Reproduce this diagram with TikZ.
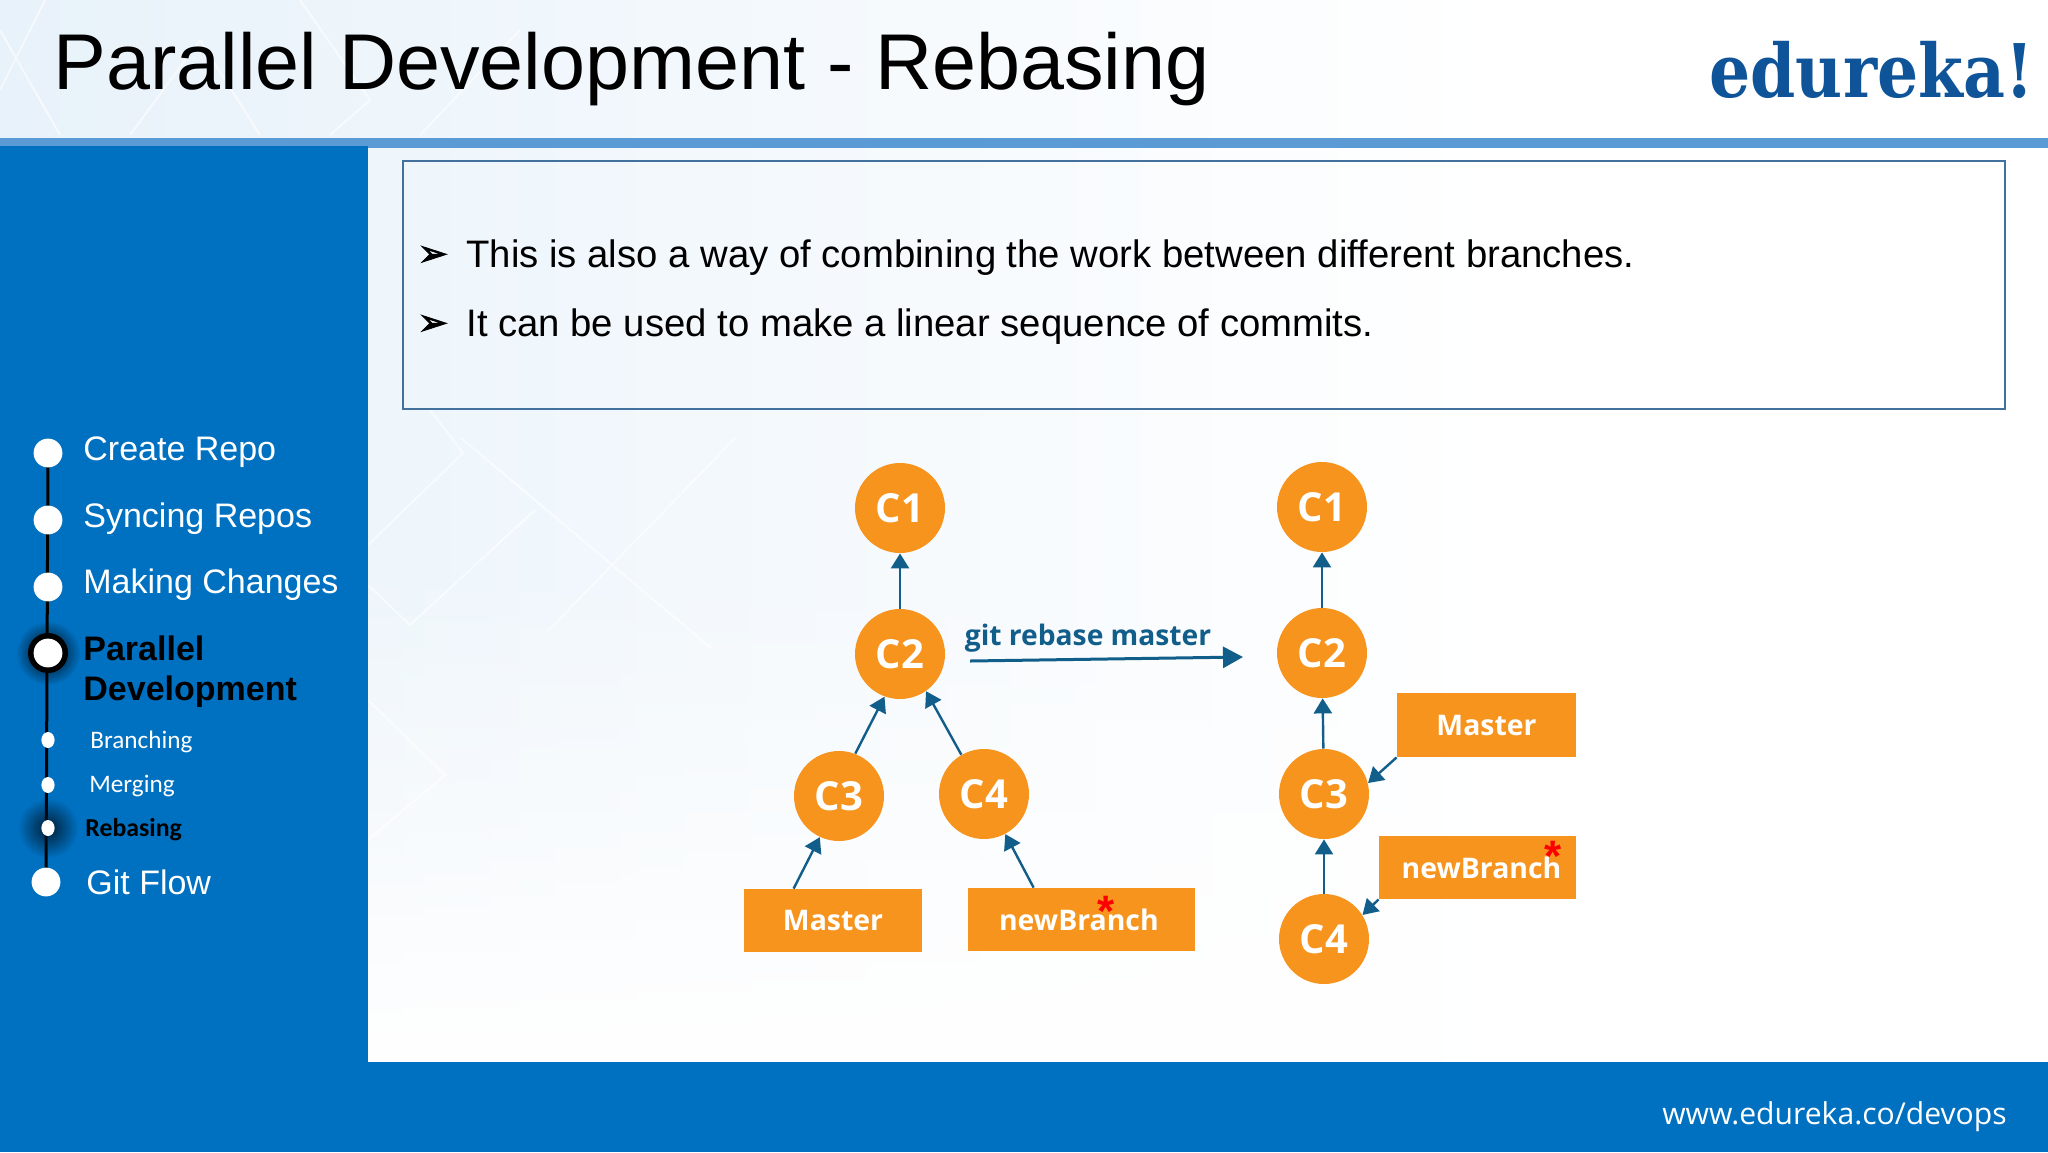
\documentclass[tikz,border=0pt]{standalone}
\usepackage{fontspec}
\usepackage{graphicx}
\usetikzlibrary{arrows.meta,fadings,calc,shapes.geometric}
\setmainfont{Liberation Sans}
\newfontfamily\osans{Open Sans}
\newfontfamily\carl{Carlito}
\newfontfamily\djvb[FakeBold=2.5]{DejaVu Sans}
\newfontfamily\slab{DejaVu Serif}
\definecolor{sideblue}{HTML}{0070C0}
\definecolor{barblue}{HTML}{5B9BD5}
\definecolor{boxline}{HTML}{41719C}
\definecolor{orangeb}{HTML}{F7941E}
\definecolor{arrowb}{HTML}{125E8A}
\definecolor{logob}{HTML}{0F5499}
\definecolor{paleb}{HTML}{E8F2FA}
\tikzset{
  x=0.5pt,y=-0.5pt,
  commit/.style={circle,fill=orangeb,minimum size=45pt,inner sep=0pt,text=white,font=\osans\bfseries\fontsize{20}{22}\selectfont},
  tag/.style={fill=orangeb,inner sep=0pt,text=white,font=\osans\bfseries\fontsize{14.2}{16}\selectfont},
  link/.style={draw=arrowb,line width=1.2pt,-{Triangle[length=7.5pt,width=9pt]}},
  bigdot/.style={circle,fill=white,minimum size=14.4pt,inner sep=0pt},
  smalldot/.style={ellipse,fill=white,minimum width=6.6pt,minimum height=8pt,inner sep=0pt},
  mainitem/.style={anchor=west,inner sep=0pt,text=white,font=\fontsize{17}{20}\selectfont},
  subitem/.style={anchor=west,inner sep=0pt,text=white,font=\carl\fontsize{12.6}{14}\selectfont},
  bullet/.style={anchor=west,inner sep=0pt,font=\fontsize{19.15}{22}\selectfont},
  tick/.style={anchor=center,inner sep=0pt,font=\djvb\fontsize{18}{20}\selectfont},
  star/.style={inner sep=0pt,text=red,font=\bfseries\fontsize{22}{24}\selectfont},
  facet/.style={draw=white,line width=1pt,opacity=0.6},
}
\tikzfading[name=fadeup,top color=transparent!100,bottom color=transparent!0]
\tikzfading[name=glow,inner color=transparent!0,outer color=transparent!100]
\begin{document}
\begin{tikzpicture}
\useasboundingbox (0,0) rectangle (2048,1152);
\fill[white] (0,0) rectangle (2048,1152);
% pale background
\shade[left color=paleb,right color=white] (0,0) rectangle (1500,1062);
\fill[white,path fading=fadeup] (368,560) rectangle (1500,1062);
\draw[facet] (0,90) -- (45,0) (0,30) -- (60,135) (368,545) -- (463,453) -- (430,410);
\draw[facet] (368,585) -- (410,625) -- (535,510);
\draw[facet] (461,438) -- (711,648);
\draw[facet] (548,631) -- (735,438);
\draw[facet] (368,840) -- (445,775) -- (368,700);
\draw[facet] (130,135) -- (200,40) -- (260,135);
\draw[facet] (300,0) -- (370,100) -- (330,135);
\draw[facet] (420,135) -- (520,30);
% header bar, side and footer
\fill[barblue] (0,138) rectangle (2048,148);
\fill[sideblue] (0,146) rectangle (368,1152);
\fill[sideblue] (0,1062) rectangle (2048,1152);
% title and logo
\node[anchor=base west,inner sep=0pt,font=\fontsize{39.55}{44}\selectfont] (title) at (53,89) {Parallel Development - Rebasing};
\node[anchor=base east,inner sep=0pt,text=logob,font=\slab\bfseries\fontsize{37}{40}\selectfont] (logo) at (2034,97) {\scalebox{.875}[1]{edureka!}};
\node[anchor=east,inner sep=0pt,text=white,font=\osans\fontsize{15.05}{18}\selectfont] (url) at (2007,1117) {www.edureka.co/devops};
% text box
\node[draw=boxline,line width=1pt,minimum width=801pt,minimum height=124pt,anchor=north west,inner sep=0pt] (box) at (402,160) {};
\node[tick] (t1) at (433,256) {➢};
\node[bullet] (b1) at (466,258) {This is also a way of combining the work between different branches.};
\node[tick] (t2) at (433,325) {➢};
\node[bullet] (b2) at (466,327) {It can be used to make a linear sequence of commits.};
% sidebar
\coordinate (railtop) at (48,453);
\coordinate (railbot) at (46,882);
\draw[black,line width=1.5pt] (railtop) -- (railbot);
\fill[black,path fading=glow] (48,653) circle (16pt);
\fill[black] (48,653) circle (10pt);
\fill[black!80!sideblue,path fading=glow,opacity=.9] (48,828) circle (15pt);
\node[bigdot] (d1) at (48,453) {};
\node[bigdot] (d2) at (48,520) {};
\node[bigdot] (d3) at (48,587) {};
\node[bigdot] (d4) at (48,653) {};
\node[smalldot] (d5) at (48,740) {};
\node[smalldot] (d6) at (48,785) {};
\node[smalldot] (d7) at (48,828) {};
\node[bigdot] (d8) at (46,882) {};
\node[mainitem] (s1) at (83,452) {Create Repo};
\node[mainitem] (s2) at (83,519) {Syncing Repos};
\node[mainitem] (s3) at (83,585) {Making Changes};
\node[mainitem,text=black,font=\bfseries\fontsize{17}{20}\selectfont,align=left] (s4) at (83,672) {Parallel\\Development};
\node[subitem] (s5) at (90,742) {Branching};
\node[subitem] (s6) at (89,786) {Merging};
\node[subitem,text=black,font=\carl\bfseries\fontsize{12.9}{14}\selectfont] (s7) at (85,830) {Rebasing};
\node[mainitem] (s8) at (86,882) {Git Flow};
% left tree
\node[commit] (c1L) at (900,508) {C1};
\node[commit] (c2L) at (900,654) {C2};
\node[commit] (c3L) at (839,796) {C3};
\node[commit] (c4L) at (984,794) {C4};
\node[tag,minimum width=89pt,minimum height=31.5pt] (mL) at (833,920.5) {Master};
\node[tag,minimum width=113.5pt,minimum height=31.5pt] (nL) at (1081.5,919.5) {\hspace*{-2.6pt}newBranch};
\node[star] (sL) at (1106,911) {*};
% right tree
\node[commit] (c1R) at (1322,507) {C1};
\node[commit] (c2R) at (1322,653) {C2};
\node[commit] (c3R) at (1324,794) {C3};
\node[commit] (c4R) at (1324,939) {C4};
\node[tag,minimum width=89.5pt,minimum height=32pt] (mR) at (1486.5,725) {Master};
\node[tag,minimum width=98.5pt,minimum height=31.5pt] (nR) at (1477.5,867.5) {\hspace*{4pt}newBranch};
\node[star] (sR) at (1553,856) {*};
% connectors
\draw[link] (c2L) -- (c1L);
\draw[link] (c3L.69) -- (c2L.250);
\draw[link] (c4L.120) -- (c2L.305);
\draw[link] ([xshift=25pt]mL.north west) -- (c3L.245);
\draw[link] ([xshift=33pt]nL.north west) -- (c4L.298);
\draw[link] (c2R) -- (c1R);
\draw[link] (c3R) -- (c2R);
\draw[link] (c4R) -- (c3R);
\draw[link] (mR.south west) -- (c3R.14);
\draw[link] (nR.south west) -- (c4R.32);
% rebase arrow
\node[inner sep=0pt,text=arrowb,font=\osans\bfseries\fontsize{14.1}{16}\selectfont] (lab) at (1088,638) {git rebase master};
\coordinate (rebaseA) at (970,661);
\coordinate (rebaseB) at (1243,657);
\draw[draw=arrowb,line width=1.5pt,-{Triangle[length=10pt,width=10.5pt]}] (rebaseA) -- (rebaseB);
\end{tikzpicture}
\end{document}
